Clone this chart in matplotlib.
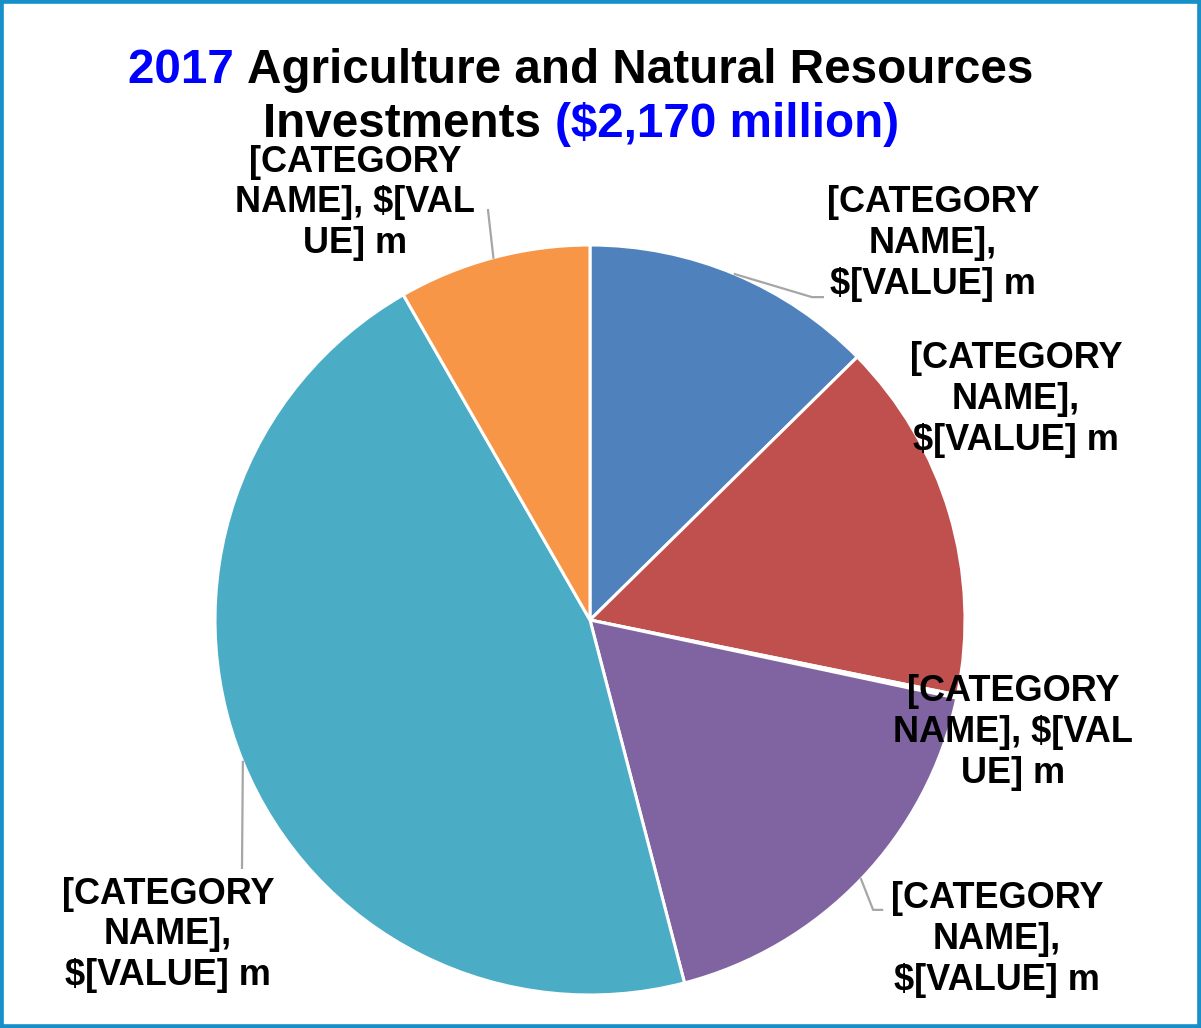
import matplotlib
matplotlib.use("Agg")
import matplotlib.pyplot as plt
from matplotlib.patches import Rectangle
import numpy as np

plt.rcParams['font.family'] = ['Liberation Sans', 'DejaVu Sans']

# investment by category, $ million (total 2,170)
values = [274, 338, 3, 382, 993, 180]
colors = ['#4F81BD', '#C0504D', '#9BBB59', '#8064A2', '#4BACC6', '#F79646']
labels = ['[CATEGORY\nNAME],\n$[VALUE] m',
          '[CATEGORY\nNAME],\n$[VALUE] m',
          '[CATEGORY\nNAME], $[VAL\nUE] m',
          '[CATEGORY\nNAME],\n$[VALUE] m',
          '[CATEGORY\nNAME],\n$[VALUE] m',
          '[CATEGORY\nNAME], $[VAL\nUE] m']
title_line1 = [('2017 ', '#0000FF'), ('Agriculture and Natural Resources', 'black')]
title_line2 = [('Investments ', 'black'), ('($2,170 million)', '#0000FF')]

# label centres and leader elbows in pie units (radius = 1)
label_pos = [(0.915, 1.005), (1.136, 0.587), (1.128, -0.299),
             (1.085, -0.853), (-1.125, -0.84), (-0.627, 1.112)]
leaders = {0: [(0.592, 0.861), (0.621, 0.861)],
           3: [(0.755, -0.773), (0.779, -0.773)],
           4: [(-0.928, -0.661)],
           5: [(-0.272, 1.093)]}

fig = plt.figure(figsize=(12.01, 10.28), dpi=100)
fig.patches.append(Rectangle((0, 0), 1, 1, transform=fig.transFigure,
                             fill=False, edgecolor='#1790CA', linewidth=5.5))

ax = fig.add_axes([215 / 1201, 33 / 1028, 750 / 1201, 750 / 1028])
wedges, _ = ax.pie(values, colors=colors, startangle=90, counterclock=False,
                   radius=1, wedgeprops=dict(edgecolor='white', linewidth=2.2))
ax.set_xlim(-1, 1)
ax.set_ylim(-1, 1)
ax.axis('off')

for i, (w, lab) in enumerate(zip(wedges, labels)):
    x, y = label_pos[i]
    ax.text(x, y, lab, ha='center', va='center', fontsize=26,
            fontweight='bold', linespacing=1.22, clip_on=False)
    if i in leaders:
        mid = np.deg2rad((w.theta1 + w.theta2) / 2)
        pts = [(np.cos(mid), np.sin(mid))] + leaders[i]
        xs, ys = zip(*pts)
        ax.plot(xs, ys, color='#A6A6A6', lw=1.6, clip_on=False)


def title_row(y, parts, xc=0.4838):
    renderer = fig.canvas.get_renderer()
    texts = [fig.text(0, y, s, color=c, fontsize=34.3, fontweight='bold',
                      ha='left', va='baseline') for s, c in parts]
    widths = [t.get_window_extent(renderer).width / fig.bbox.width for t in texts]
    x = xc - sum(widths) / 2
    for t, wd in zip(texts, widths):
        t.set_x(x)
        x += wd


title_row(0.9193, title_line1)
title_row(0.8667, title_line2)

fig.savefig('out.png', dpi=100)
